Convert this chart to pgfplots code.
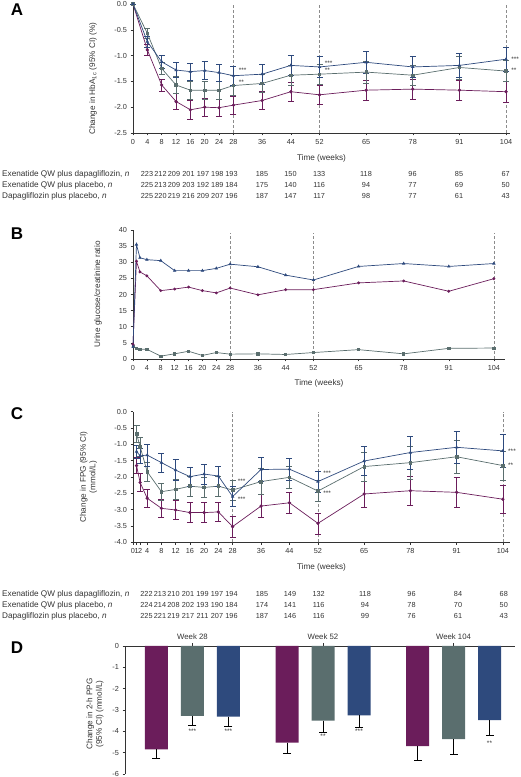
\documentclass[border=0pt]{standalone}
\usepackage{fontspec}
\setmainfont{Liberation Sans}
\usepackage{pgfplots}
\pgfplotsset{compat=1.18}
\definecolor{cPur}{HTML}{6B1D5B}
\definecolor{cGry}{HTML}{5A6E6E}
\definecolor{cBlu}{HTML}{2E4A7D}
\definecolor{txt}{HTML}{333333}
\newcommand{\sz}{\fontsize{7.3}{8}\selectfont}
\newcommand{\lz}{\fontsize{8.2}{9.4}\selectfont}
\newcommand{\nz}{\fontsize{7.3}{8}\selectfont}
\pgfplotsset{
 base/.style={scale only axis, axis x line*=bottom, axis y line*=left,
   axis line style={-, black!80, line width=0.6pt}, tick align=outside,
   tick style={black!80, line width=0.5pt}, major tick length=2.5pt,
   tick label style={font=\sz, text=txt}, label style={font=\lz, text=txt},
   /pgf/number format/assume math mode=true, clip=false},
 ts/.style={line width=0.7pt, mark size=1.3pt,
   /pgfplots/error bars/y dir=both, /pgfplots/error bars/y explicit,
   /pgfplots/error bars/error bar style={line width=0.6pt, solid},
   /pgfplots/error bars/error mark options={rotate=90, mark size=3pt, line width=0.6pt, solid}},
 vl/.style={black!45, densely dashed, line width=0.5pt, forget plot},
}
\tikzset{ast/.style={font=\fontsize{6.5}{6.5}\selectfont, text=txt, anchor=west, inner sep=0.5pt}}
\begin{document}
\begin{tikzpicture}
\path[use as bounding box] (0,0) rectangle (520pt,777pt);
% panel letters
\node[font=\bfseries\fontsize{17}{17}\selectfont] at (17pt,767pt) {A};
\node[font=\bfseries\fontsize{17}{17}\selectfont] at (17pt,543pt) {B};
\node[font=\bfseries\fontsize{17}{17}\selectfont] at (17pt,363pt) {C};
\node[font=\bfseries\fontsize{17}{17}\selectfont] at (17pt,129pt) {D};

% ---------------- A
\begin{axis}[base, at={(133pt,644pt)}, anchor=south west, width=377pt, height=129pt,
  xmin=0, xmax=105.1, ymin=-2.5, ymax=0,
  xtick={0,4,8,12,16,20,24,28,36,44,52,65,78,91,104},
  ytick={-2.5,-2,-1.5,-1,-0.5,0},
  yticklabel style={/pgf/number format/.cd, fixed, fixed zerofill, precision=1},
  xlabel={Time (weeks)}, xlabel style={at={(axis description cs:0.5,-0.2)}, anchor=center},
  ylabel={Change in HbA\textsubscript{1c} (95\% CI) (\%)},
  ylabel style={at={(axis description cs:-0.106,0.42)}, anchor=center}]
\addplot[vl] coordinates {(28,-2.5) (28,0)};
\addplot[vl] coordinates {(52,-2.5) (52,0)};
\addplot[vl] coordinates {(104,-2.5) (104,0)};
\addplot[color=cPur, mark=*, ts] table[x=w, y=v, y error=e] {
w v e
0 0 0
4 -0.89 0.10
8 -1.57 0.12
12 -1.89 0.16
16 -2.05 0.18
20 -2.00 0.17
24 -2.01 0.17
28 -1.96 0.18
36 -1.87 0.18
44 -1.70 0.18
52 -1.76 0.19
65 -1.67 0.20
78 -1.65 0.20
91 -1.67 0.20
104 -1.70 0.21
};
\addplot[color=cGry, mark=square*, ts] table[x=w, y=v, y error=e] {
w v e
0 0 0
4 -0.57 0.10
8 -1.25 0.12
12 -1.57 0.16
16 -1.67 0.18
20 -1.67 0.18
24 -1.67 0.18
28 -1.58 0.19
36 -1.54 0.17
44 -1.38 0.20
52 -1.36 0.20
65 -1.32 0.21
78 -1.38 0.20
91 -1.23 0.22
104 -1.30 0.20
};
\addplot[color=cBlu, mark=triangle*, ts] table[x=w, y=v, y error=e] {
w v e
0 0 0
4 -0.73 0.10
8 -1.12 0.12
12 -1.28 0.15
16 -1.31 0.17
20 -1.29 0.17
24 -1.33 0.17
28 -1.39 0.18
36 -1.36 0.19
44 -1.19 0.20
52 -1.22 0.20
65 -1.13 0.21
78 -1.22 0.20
91 -1.19 0.23
104 -1.07 0.24
};
\node[ast] at (axis cs:29.3,-1.29) {***};
\node[ast] at (axis cs:29.3,-1.52) {**};
\node[ast] at (axis cs:53.3,-1.15) {***};
\node[ast] at (axis cs:53.3,-1.29) {**};
\node[ast] at (axis cs:105.3,-1.07) {***};
\node[ast] at (axis cs:105.3,-1.29) {**};
\end{axis}
% table A
\begin{scope}[every node/.style={text=txt, inner sep=0pt}]
\node[anchor=west, font=\lz] at (2pt,603pt) {Exenatide QW plus dapagliflozin, \textit{n}};
\node[anchor=west, font=\lz] at (2pt,592pt) {Exenatide QW plus placebo, \textit{n}};
\node[anchor=west, font=\lz] at (2pt,581pt) {Dapagliflozin plus placebo, \textit{n}};
\foreach \x/\a/\b/\c in {147/223/225/225, 160.5/212/213/220, 174/209/209/219, 188.5/201/203/216, 203/197/192/209, 217.3/198/189/207, 231.5/193/184/196, 262/185/175/187, 290.5/150/140/147, 319.2/133/116/117, 366/118/94/98, 412.5/96/77/77, 459/85/69/61, 505.7/67/50/43}{
  \node[font=\nz] at (\x pt,603pt) {\a};
  \node[font=\nz] at (\x pt,592pt) {\b};
  \node[font=\nz] at (\x pt,581pt) {\c};
}
\end{scope}

% ---------------- B
\begin{axis}[base, at={(133pt,418pt)}, anchor=south west, width=372pt, height=129pt,
  xmin=0, xmax=107.2, ymin=0, ymax=40,
  xtick={0,4,8,12,16,20,24,28,36,44,52,65,78,91,104},
  ytick={0,5,...,40},
  xlabel={Time (weeks)}, xlabel style={at={(axis description cs:0.5,-0.186)}, anchor=center},
  ylabel={Urine glucose/creatinine ratio},
  ylabel style={at={(axis description cs:-0.094,0.5)}, anchor=center}]
\addplot[vl] coordinates {(28,0) (28,39)};
\addplot[vl] coordinates {(52,0) (52,39)};
\addplot[vl] coordinates {(104,0) (104,39)};
\addplot[color=cGry, line width=0.7pt, mark=square*, mark size=1.1pt] table {
0 3.8
1 3.3
2 3.0
4 3.0
8 0.9
12 1.6
16 2.4
20 1.1
24 2.0
28 1.5
36 1.6
44 1.4
52 2.0
65 2.9
78 1.6
91 3.3
104 3.4
};
\addplot[color=cPur, line width=0.7pt, mark=*, mark size=1.1pt] table {
0 4.5
1 30.3
2 27.0
4 25.8
8 21.2
12 21.7
16 22.3
20 21.2
24 20.5
28 22.0
36 19.9
44 21.5
52 21.5
65 23.6
78 24.2
91 21.0
104 24.9
};
\addplot[color=cBlu, line width=0.7pt, mark=triangle*, mark size=1.3pt] table {
0 3.8
1 35.5
2 31.4
4 30.8
8 30.5
12 27.4
16 27.4
20 27.4
24 28.1
28 29.4
36 28.6
44 26.0
52 24.5
65 28.7
78 29.6
91 28.7
104 29.6
};
\end{axis}

% ---------------- C
\begin{axis}[base, at={(133pt,234.7pt)}, anchor=south west, width=377pt, height=130.6pt,
  xmin=0, xmax=106, ymin=-4, ymax=0,
  xtick={0,1,2,4,8,12,16,20,24,28,36,44,52,65,78,91,104},
  ytick={-4,-3.5,...,0},
  yticklabel style={/pgf/number format/.cd, fixed, fixed zerofill, precision=1},
  xlabel={Time (weeks)}, xlabel style={at={(axis description cs:0.5,-0.19)}, anchor=center},
  ylabel={Change in FPG (95\% CI)\\(mmol/L)},
  ylabel style={align=center, at={(axis description cs:-0.118,0.5)}, anchor=center}]
\addplot[vl] coordinates {(28,-4) (28,0)};
\addplot[vl] coordinates {(52,-4) (52,0)};
\addplot[vl] coordinates {(104,-4) (104,0)};
\addplot[color=cPur, mark=*, ts] table[x=w, y=v, y error=e] {
w v e
1 -1.65 0.25
2 -2.17 0.28
4 -2.65 0.28
8 -2.96 0.28
12 -3.01 0.30
16 -3.09 0.30
20 -3.09 0.30
24 -3.07 0.30
28 -3.52 0.32
36 -2.89 0.35
44 -2.79 0.33
52 -3.42 0.32
65 -2.52 0.40
78 -2.42 0.45
91 -2.47 0.45
104 -2.68 0.44
};
\addplot[color=cGry, mark=square*, ts] table[x=w, y=v, y error=e] {
w v e
1 -0.68 0.27
2 -1.07 0.30
4 -1.84 0.30
8 -2.45 0.27
12 -2.38 0.30
16 -2.28 0.30
20 -2.32 0.30
24 -2.28 0.30
28 -2.40 0.30
36 -2.14 0.40
44 -2.01 0.35
52 -2.43 0.32
65 -1.68 0.45
78 -1.56 0.50
91 -1.38 0.50
104 -1.65 0.45
};
\addplot[color=cBlu, mark=triangle*, ts] table[x=w, y=v, y error=e] {
w v e
1 -1.22 0.20
2 -1.35 0.22
4 -1.33 0.33
8 -1.56 0.30
12 -1.79 0.32
16 -1.99 0.30
20 -1.91 0.30
24 -1.97 0.30
28 -2.60 0.30
36 -1.77 0.37
44 -1.76 0.33
52 -2.14 0.32
65 -1.51 0.45
78 -1.25 0.50
91 -1.09 0.50
104 -1.20 0.50
};
\node[ast] at (axis cs:29.3,-2.14) {***};
\node[ast] at (axis cs:29.3,-2.67) {***};
\node[ast] at (axis cs:53.3,-1.88) {***};
\node[ast] at (axis cs:53.3,-2.49) {***};
\node[ast] at (axis cs:105.3,-1.20) {***};
\node[ast] at (axis cs:105.3,-1.63) {**};
\end{axis}
% table C
\begin{scope}[every node/.style={text=txt, inner sep=0pt}]
\node[anchor=west, font=\lz] at (2pt,183pt) {Exenatide QW plus dapagliflozin, \textit{n}};
\node[anchor=west, font=\lz] at (2pt,172pt) {Exenatide QW plus placebo, \textit{n}};
\node[anchor=west, font=\lz] at (2pt,161pt) {Dapagliflozin plus placebo, \textit{n}};
\foreach \x/\a/\b/\c in {146.5/222/224/225, 160/213/214/221, 173.5/210/208/219, 188/201/202/217, 202.5/199/193/211, 217/197/190/207, 231.5/194/184/196, 262/185/174/187, 290/149/141/146, 318.7/132/116/116, 365/118/94/99, 411.5/96/78/76, 458/84/70/61, 503.8/68/50/43}{
  \node[font=\nz] at (\x pt,183pt) {\a};
  \node[font=\nz] at (\x pt,172pt) {\b};
  \node[font=\nz] at (\x pt,161pt) {\c};
}
\end{scope}

% ---------------- D
\begin{axis}[scale only axis, at={(125pt,3pt)}, anchor=south west, width=390pt, height=128pt,
  axis x line*=top, axis y line*=left,
  axis line style={-, black!80, line width=0.6pt}, tick align=outside,
  tick style={black!80, line width=0.5pt}, major tick length=2.5pt,
  tick label style={font=\sz, text=txt}, label style={font=\lz, text=txt},
  xticklabel style={font=\fontsize{7.8}{8}\selectfont},
  /pgf/number format/assume math mode=true, clip=false,
  xmin=-0.517, xmax=2.471, ymin=-6, ymax=0,
  xtick={0,1,2}, xticklabels={Week 28, Week 52, Week 104},
  ytick={-6,-5,...,0},
  ylabel={Change in 2-h PPG\\(95\% CI) (mmol/L)},
  ylabel style={align=center, at={(axis description cs:-0.077,0.47)}, anchor=center},
  ybar, bar width=23pt]
\addplot[fill=cPur, draw=none, bar shift=-36pt,
  error bars/.cd, y dir=minus, y explicit,
  error bar style={black, line width=0.7pt},
  error mark options={black, rotate=90, mark size=4pt, line width=0.7pt}]
  coordinates {(0,-4.84) +- (0,0.43) (1,-4.53) +- (0,0.50) (2,-4.69) +- (0,0.65)};
\addplot[fill=cGry, draw=none, bar shift=0pt,
  error bars/.cd, y dir=minus, y explicit,
  error bar style={black, line width=0.7pt},
  error mark options={black, rotate=90, mark size=4pt, line width=0.7pt}]
  coordinates {(0,-3.28) +- (0,0.45) (1,-3.50) +- (0,0.55) (2,-4.36) +- (0,0.72)};
\addplot[fill=cBlu, draw=none, bar shift=36pt,
  error bars/.cd, y dir=minus, y explicit,
  error bar style={black, line width=0.7pt},
  error mark options={black, rotate=90, mark size=4pt, line width=0.7pt}]
  coordinates {(0,-3.31) +- (0,0.47) (1,-3.25) +- (0,0.55) (2,-3.47) +- (0,0.73)};
\node[font=\fontsize{6.5}{6.5}\selectfont, text=txt] at (axis cs:0,-4.02) {***};
\node[font=\fontsize{6.5}{6.5}\selectfont, text=txt, xshift=36pt] at (axis cs:0,-4.02) {***};
\node[font=\fontsize{6.5}{6.5}\selectfont, text=txt] at (axis cs:1,-4.25) {**};
\node[font=\fontsize{6.5}{6.5}\selectfont, text=txt, xshift=36pt] at (axis cs:1,-4.02) {***};
\node[font=\fontsize{6.5}{6.5}\selectfont, text=txt, xshift=36pt] at (axis cs:2,-4.56) {**};
\end{axis}
\end{tikzpicture}
\end{document}
